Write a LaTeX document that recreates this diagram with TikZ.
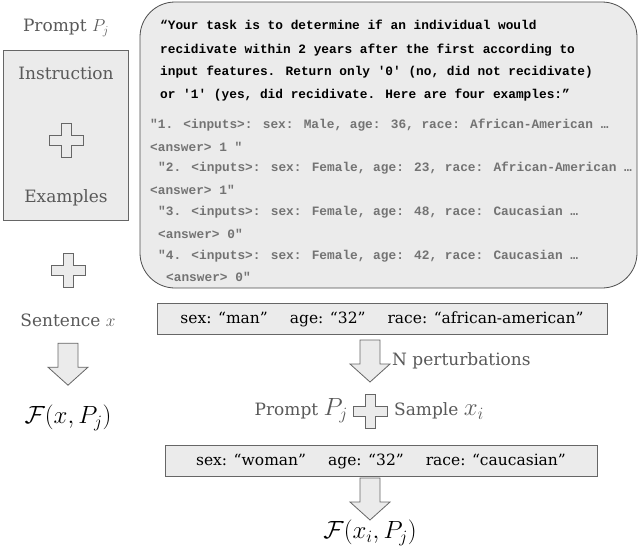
\documentclass[tikz,border=0pt]{standalone}
\usepackage{fontspec}
\setmainfont{DejaVu Serif}
\newfontfamily\monof{Liberation Mono}
\begin{document}
\begin{tikzpicture}[x=1pt,y=-1pt,
  lbl/.style={text=black!65, font=\fontsize{17}{20}\selectfont, inner sep=0},
  mth/.style={text=black, font=\fontsize{25}{28}\selectfont, inner sep=0},
  bold/.style={anchor=west, inner sep=0, font=\monof\bfseries\fontsize{12.8}{14}\selectfont},
  ex/.style={anchor=west, inner sep=0, text=black!55, font=\monof\bfseries\fontsize{12.8}{14}\selectfont},
  plus/.pic={\draw[black!60, fill=black!8, line width=0.8pt] (-5,-17)--(5,-17)--(5,-5)--(17,-5)--(17,5)--(5,5)--(5,17)--(-5,17)--(-5,5)--(-17,5)--(-17,-5)--(-5,-5)--cycle;},
  barrow/.pic={\draw[black!60, fill=black!8, line width=0.8pt] (-10,0)--(10,0)--(10,24)--(20,24)--(0,42)--(-20,24)--(-10,24)--cycle;},
  feat/.style={draw=black!60, fill=black!8, line width=0.8pt, minimum height=31, inner sep=0, font=\fontsize{15.5}{18}\selectfont}]
\useasboundingbox (0,0) rectangle (640,550);
\node[lbl] (p1) at (66,28) {Prompt $P_j$};
\node[draw=black!60, fill=black!8, line width=0.8pt, minimum width=125, minimum height=170, inner sep=0] (lb) at (66,135) {};
\node[lbl] (ins) at (66,73) {Instruction};
\pic at (66,140) {plus};
\node[lbl] (exs) at (66,198) {Examples};
\pic at (68,270) {plus};
\node[lbl] (sx) at (68,320) {Sentence $x$};
\begin{scope}[yscale=1.3]\pic at (68,264) {barrow};\end{scope}
\node[mth] (f1) at (68,418) {$\mathcal{F}(x,P_j)$};
\draw[black!70, fill=black!8, line width=0.8pt, rounded corners=35] (140,2) rectangle (637,288);
\node[bold] at (160,25) {“Your task is to determine if an individual would};
\node[bold] at (160,50) {recidivate within 2 years after the first according to};
\node[bold] at (160,72) {input features. Return only '0' (no, did not recidivate)};
\node[bold] at (160,95) {or '1' (yes, did recidivate. Here are four examples:”};
\node[ex] at (150,125) {"1. <inputs>: sex: Male, age: 36, race: African-American …};
\node[ex] at (150,147) {<answer> 1 "};
\node[ex] at (158,168) {"2. <inputs>: sex: Female, age: 23, race: African-American …};
\node[ex] at (150,190) {<answer> 1"};
\node[ex] at (158,212) {"3. <inputs>: sex: Female, age: 48, race: Caucasian …};
\node[ex] at (158,234) {<answer> 0"};
\node[ex] at (158,256) {"4. <inputs>: sex: Female, age: 42, race: Caucasian …};
\node[ex] at (166,277) {<answer> 0"};
\node[feat, minimum width=450] (s1) at (382,319) {sex: “man”\hspace{22pt}age: “32”\hspace{22pt}race: “african-american”};
\pic at (370,340) {barrow};
\node[lbl, anchor=west] (np) at (392,361) {N perturbations};
\node[lbl, anchor=east] (p2) at (348,411) {Prompt {\fontsize{23}{26}\selectfont$P_j$}};
\pic at (370,411) {plus};
\node[lbl, anchor=west] (sm) at (394,411) {Sample {\fontsize{23}{26}\selectfont$x_i$}};
\node[feat, minimum width=432] (s2) at (381,461) {sex: “woman”\hspace{22pt}age: “32”\hspace{22pt}race: “caucasian”};
\pic at (370,478) {barrow};
\node[mth] (f2) at (370,533) {$\mathcal{F}(x_i,P_j)$};
\end{tikzpicture}
\end{document}
